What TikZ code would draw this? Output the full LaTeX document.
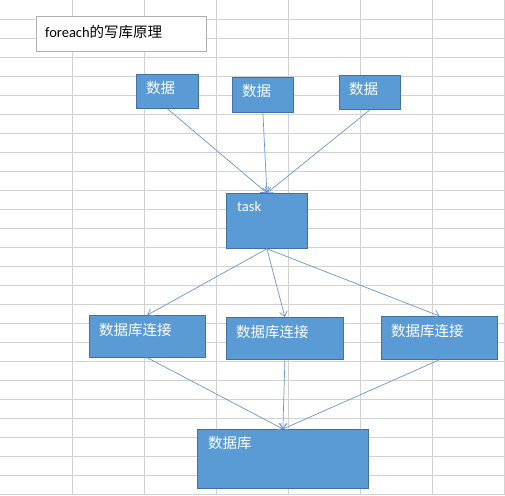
\documentclass[tikz,border=0pt]{standalone}
\usepackage{fontspec}
\setmainfont{Carlito}
\newfontfamily\cjk{Noto Sans CJK SC}
\usetikzlibrary{arrows.meta}
\definecolor{gridgray}{RGB}{210,210,210}
\definecolor{boxblue}{RGB}{91,155,213}
\definecolor{boxedge}{RGB}{65,113,156}
\definecolor{linkblue}{RGB}{105,150,208}
\definecolor{titleedge}{RGB}{175,175,175}
\begin{document}
\begin{tikzpicture}[x=1pt,y=-1pt,
    gridline/.style={draw=gridgray,line width=0.8pt},
    block/.style={draw=boxedge,fill=boxblue,line width=0.8pt,anchor=north west,inner sep=0pt},
    titlebox/.style={draw=titleedge,fill=white,line width=0.8pt,anchor=north west,inner sep=0pt},
    boxtext/.style={text=white,anchor=west,inner sep=0pt,font=\fontsize{14.5}{17}\selectfont},
    link/.style={draw=linkblue,line width=0.7pt,-{Straight Barb[length=5pt,width=8pt]}}]
    \useasboundingbox (0,0) rectangle (505,495);
    \fill[white] (0,0) rectangle (505,495);
    % sheet grid
    \foreach \x in {1,...,7} \draw[gridline] (72.1*\x,0) -- (72.1*\x,495);
    \foreach \y in {1,...,26} \draw[gridline] (0,19*\y) -- (505,19*\y);

    \node[titlebox,minimum width=170pt,minimum height=35pt] (title) at (36,16) {};
    \node[boxtext,text=black] (titletext) at ([shift={(9,16)}]title.north west) {foreach\cjk 的写库原理};

    \node[block,minimum width=62pt,minimum height=34pt] (d1) at (136,74) {};
    \node[block,minimum width=61pt,minimum height=35pt] (d2) at (232,77) {};
    \node[block,minimum width=61pt,minimum height=34pt] (d3) at (339,75) {};
    \node[block,minimum width=81pt,minimum height=55pt] (task) at (226,193) {};
    \node[block,minimum width=116pt,minimum height=42pt] (c1) at (89,315) {};
    \node[block,minimum width=117pt,minimum height=42pt] (c2) at (226,317) {};
    \node[block,minimum width=116pt,minimum height=43pt] (c3) at (381,316) {};
    \node[block,minimum width=171pt,minimum height=59pt] (db) at (197,429) {};

    \foreach \b in {d1,d2,d3}
        \node[boxtext] (\b text) at ([shift={(10,14.5)}]\b.north west) {\cjk 数据};
    \node[boxtext] (tasktext) at ([shift={(11,14)}]task.north west) {task};
    \foreach \b in {c1,c2,c3}
        \node[boxtext] (\b text) at ([shift={(10,15)}]\b.north west) {\cjk 数据库连接};
    \node[boxtext] (dbtext) at ([shift={(11,14)}]db.north west) {\cjk 数据库};

    \foreach \b in {d1,d2,d3} \draw[link] (\b.south) -- (task.north);
    \foreach \b in {c1,c2,c3} \draw[link] (task.south) -- (\b.north);
    \foreach \b in {c1,c2,c3} \draw[link] (\b.south) -- (db.north);
\end{tikzpicture}
\end{document}
